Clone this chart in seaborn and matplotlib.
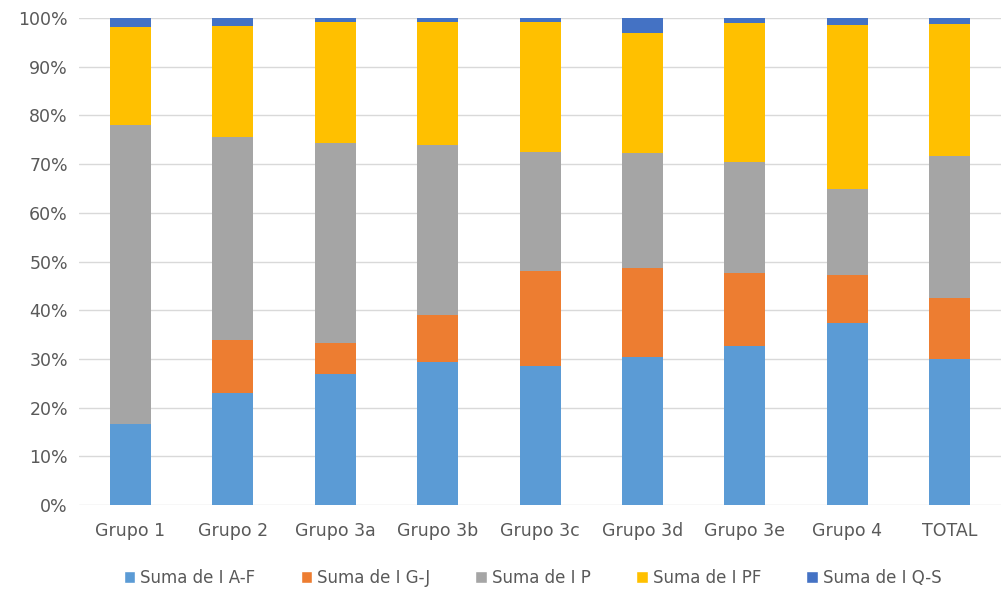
import numpy as np
import pandas as pd
import seaborn as sns
import matplotlib.pyplot as plt
from matplotlib.patches import Patch

# # # Data (share of each group, in %) # # #

grupos = ['Grupo 1', 'Grupo 2', 'Grupo 3a', 'Grupo 3b', 'Grupo 3c',
          'Grupo 3d', 'Grupo 3e', 'Grupo 4', 'TOTAL']
series = ['Suma de I A-F', 'Suma de I G-J', 'Suma de I P', 'Suma de I PF', 'Suma de I Q-S']

i_af = [16.6, 23.1, 26.9, 29.4, 28.6, 30.3, 32.7, 37.3, 30.0]
i_gj = [0.0, 10.8, 6.4, 9.7, 19.4, 18.4, 15.0, 10.0, 12.5]
i_p = [61.4, 41.7, 41.0, 34.9, 24.5, 23.5, 22.7, 17.6, 29.2]
i_pf = [20.2, 22.8, 24.9, 25.2, 26.6, 24.8, 28.5, 33.7, 27.0]
i_qs = [1.8, 1.6, 0.8, 0.8, 0.9, 3.0, 1.1, 1.4, 1.3]

colores = ['#5B9BD5', '#ED7D31', '#A5A5A5', '#FFC000', '#4472C4']

# # # Cumulative sums so the bars can be layered into a stack # # #

df = pd.DataFrame({'Grupo': grupos, series[0]: i_af, series[1]: i_gj,
                   series[2]: i_p, series[3]: i_pf, series[4]: i_qs})
cum = df[series].cumsum(axis=1)
cum['Grupo'] = df['Grupo']

sns.set_style('white')
fig = plt.figure(figsize=(10.01, 5.91), dpi=100)
ax = fig.add_axes([0.079, 0.1455, 0.921, 0.824])

# tallest first, shorter ones painted on top
for s, c in reversed(list(zip(series, colores))):
    sns.barplot(data=cum, x='Grupo', y=s, color=c, width=0.4,
                saturation=1, linewidth=0, edgecolor='none', ax=ax, zorder=3)

ax.set_ylim(0, 100)
ax.set_xlim(-0.5, 8.5)
ax.set_yticks(np.arange(0, 101, 10))
ax.set_yticklabels([f'{v}%' for v in range(0, 101, 10)])
ax.set_xlabel('')
ax.set_ylabel('')
ax.grid(axis='y', color='#D9D9D9', linewidth=1, zorder=0)
ax.set_axisbelow(True)
for sp in ax.spines.values():
    sp.set_visible(False)
ax.tick_params(axis='both', length=0, colors='#595959', labelsize=12.5)
ax.tick_params(axis='x', pad=12)
ax.tick_params(axis='y', pad=8)

handles = [Patch(facecolor=c, label=s) for s, c in zip(series, colores)]
fig.legend(handles=handles, loc='center', bbox_to_anchor=(0.532, 0.022), ncol=5,
           frameon=False, fontsize=12, labelcolor='#595959',
           handlelength=0.7, handleheight=0.7, handletextpad=0.3, columnspacing=2.7)

plt.savefig('out.png', dpi=100)
